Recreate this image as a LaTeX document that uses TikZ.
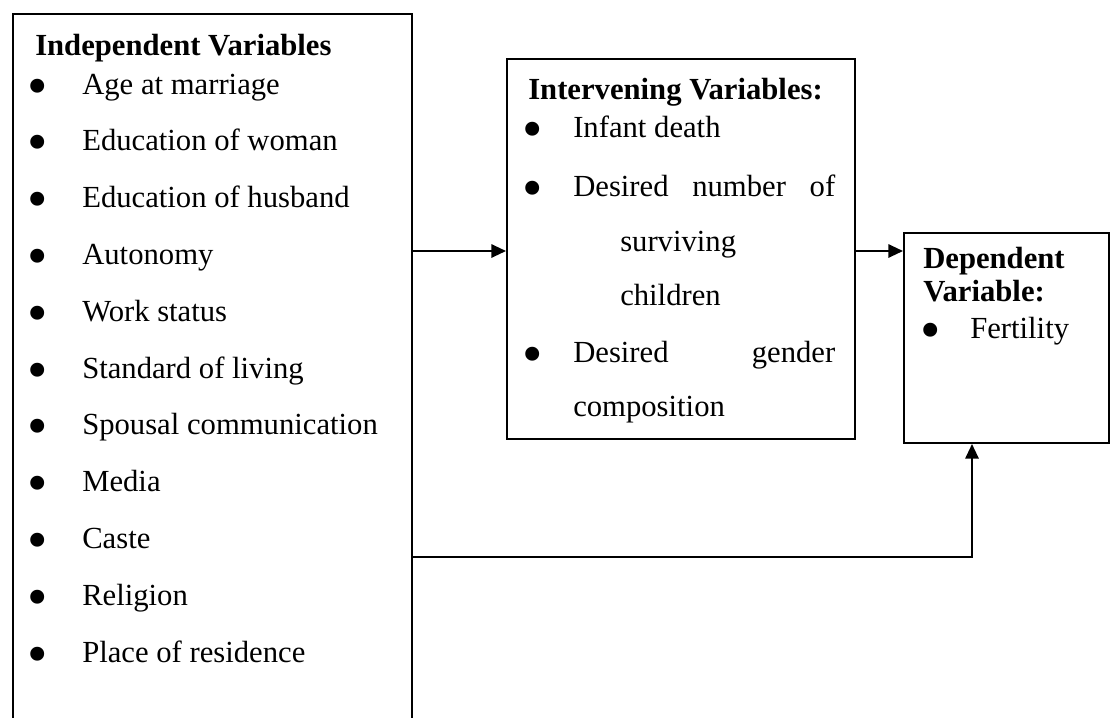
\documentclass[tikz,border=0pt]{standalone}
\usepackage{fontspec}
\usepackage{graphicx}
\setmainfont{Liberation Serif}
\usetikzlibrary{arrows.meta, positioning}

\newcommand{\bigdot}{\raisebox{-0.36em}{\scalebox{1.9}{\textbullet}}}

\tikzset{
  varbox/.style={draw, line width=1.5pt, inner sep=0pt, anchor=north west},
  txt/.style={anchor=base west, inner sep=0pt, font=\fontsize{23}{27}\selectfont},
  head/.style={txt, font=\fontsize{23}{27}\selectfont\bfseries},
  bul/.style={txt, xshift=-4pt},
  flow/.style={-{Triangle[length=11pt,width=10pt]}, line width=1.5pt},
}

\begin{document}
\begin{tikzpicture}[x=0.75pt, y=-0.75pt]
\useasboundingbox (0,0) rectangle (1111,718);
\clip (0,0) rectangle (1111,718);
% Boxes
\node[varbox, minimum width=299.25pt, minimum height=560pt] (indep) at (12,13) {};
\node[varbox, minimum width=261pt, minimum height=285pt] (interv) at (506,58) {};
\node[varbox, minimum width=153.75pt, minimum height=157.5pt] (dep) at (903,232) {};
% Independent variables
\node[head] (indhead) at (35,55) {Independent Variables};
\foreach \lbl [count=\k] in {Age at marriage, Education of woman, Education of husband,
    Autonomy, Work status, Standard of living, Spousal communication, Media, Caste,
    Religion, Place of residence} {
  \node[bul] (indb\k) at ({33},{94+56.8*(\k-1)}) {\bigdot};
  \node[txt] (ind\k) at ({82},{94+56.8*(\k-1)}) {\lbl};
}
% Intervening variables
\node[head] (intvhead) at (528,99) {Intervening Variables:};
\node[bul] (intvb1) at (528,137) {\bigdot};
\node[txt] (intv1) at (573,137) {Infant death};
\node[bul] (intvb2) at (528,196) {\bigdot};
\node[txt] (intv2) at (573,196) {\hbox to 196.5pt{Desired\hfill number\hfill of}};
\node[txt] (intv3) at (620,251) {surviving};
\node[txt] (intv4) at (620,305) {children};
\node[bul] (intvb5) at (528,362) {\bigdot};
\node[txt] (intv5) at (573,362) {\hbox to 196.5pt{Desired\hfill gender}};
\node[txt] (intv6) at (573,416) {composition};
% Dependent variable
\node[head] (dephead1) at (923,268) {Dependent};
\node[head] (dephead2) at (923,301) {Variable:};
\node[bul] (depb1) at (926,338) {\bigdot};
\node[txt] (dep1) at (970,338) {Fertility};
% Connectors
\coordinate (row) at (0,251);
\coordinate (low) at (972,557);
\draw[flow] (indep.east |- row) -- (interv.west |- row);
\draw[flow] (interv.east |- row) -- (dep.west |- row);
\draw[flow] (indep.east |- low) -| (dep.south -| low);
\end{tikzpicture}
\end{document}
